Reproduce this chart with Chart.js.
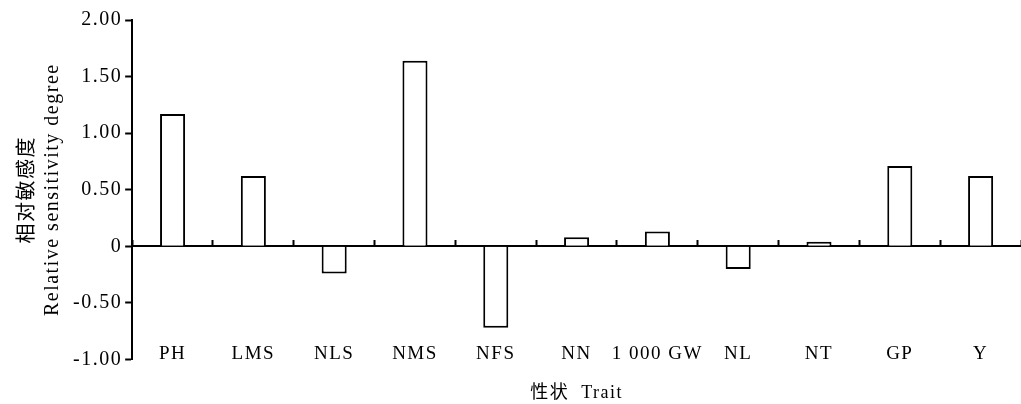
<!DOCTYPE html>
<html>
<head>
<meta charset="utf-8">
<script src="https://cdn.jsdelivr.net/npm/chart.js@4/dist/chart.umd.min.js"></script>
<style>
  html, body { margin: 0; padding: 0; background: #fff; }
  #wrap { width: 1021px; height: 404px; }
</style>
</head>
<body>
<div id="wrap"><canvas id="chartTrait"></canvas></div>
<script>
// 性状 / relative sensitivity degree
const traits = ['PH', 'LMS', 'NLS', 'NMS', 'NFS', 'NN', '1 000 GW', 'NL', 'NT', 'GP', 'Y'];
const sensitivity = [1.17, 0.62, -0.24, 1.64, -0.72, 0.08, 0.13, -0.20, 0.04, 0.71, 0.62];
const yTicks = [-1.00, -0.50, 0, 0.50, 1.00, 1.50, 2.00];

const SERIF = '"Liberation Serif", "Times New Roman", "Noto Sans CJK SC", serif';

// the source figure uses a loosely spaced serif face
const spacing = {
    id: 'spacing',
    beforeUpdate: (chart) => { chart.ctx.letterSpacing = '1.5px'; },
    beforeLayout: (chart) => { chart.ctx.letterSpacing = '1.5px'; },
    beforeDraw: (chart) => { chart.ctx.letterSpacing = '1.5px'; }
};

const ctx = document.getElementById('chartTrait');

new Chart(ctx, {
    type: 'bar',
    data: {
        labels: traits,
        datasets: [{
            data: sensitivity,
            backgroundColor: '#ffffff',
            borderColor: '#000000',
            borderWidth: 2,
            barPercentage: 0.31,
            categoryPercentage: 1
        }]
    },
    options: {
        responsive: true,
        maintainAspectRatio: false,
        animation: false,
        layout: {
            padding: { left: 15, right: 0, top: 20, bottom: 0 }
        },
        plugins: {
            legend: { display: false },
            tooltip: { enabled: false },
            title: {
                display: true,
                text: '性状  Trait',
                position: 'bottom',
                fullSize: false,
                color: '#000',
                font: { family: SERIF, size: 18, weight: 'normal' },
                padding: { top: 23, bottom: 0 }
            }
        },
        scales: {
            x: {
                position: { y: 0 },
                offset: true,
                border: { display: true, color: '#000', width: 2 },
                grid: {
                    display: true,
                    offset: true,
                    drawOnChartArea: false,
                    drawTicks: true,
                    tickLength: -7,
                    tickWidth: 2,
                    tickColor: '#000'
                },
                ticks: {
                    color: '#000',
                    padding: 103,
                    maxRotation: 0,
                    autoSkip: false,
                    font: { family: SERIF, size: 19 }
                },
                // the big label padding must not eat the right margin
                afterFit: (scale) => {
                    scale.paddingLeft = 0;
                    scale.paddingRight = 0;
                }
            },
            y: {
                min: -1,
                max: 2,
                afterBuildTicks: (scale) => {
                    scale.ticks = yTicks.map(v => ({ value: v }));
                },
                border: { display: true, color: '#000', width: 2 },
                grid: {
                    display: true,
                    drawOnChartArea: false,
                    drawTicks: true,
                    tickLength: 7,
                    tickWidth: 2,
                    tickColor: '#000'
                },
                ticks: {
                    color: '#000',
                    padding: 3,
                    font: { family: SERIF, size: 20 },
                    callback: (v) => v === 0 ? '0' : Number(v).toFixed(2)
                },
                title: {
                    display: true,
                    text: ['相对敏感度', 'Relative sensitivity degree'],
                    color: '#000',
                    font: { family: SERIF, size: 20, lineHeight: 1.25 },
                    padding: { top: 0, bottom: 5 }
                }
            }
        }
    },
    plugins: [spacing]
});
</script>
</body>
</html>
